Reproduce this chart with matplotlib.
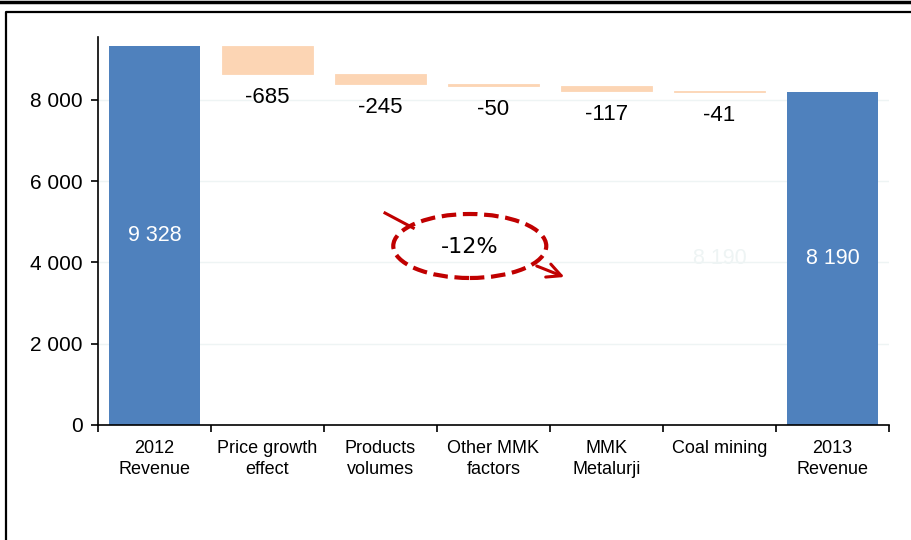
import numpy as np
import matplotlib.pyplot as plt
from matplotlib.patches import Ellipse

plt.rcParams['font.family'] = ['Liberation Sans', 'DejaVu Sans']

categories = ["2012\nRevenue", "Price growth\neffect", "Products\nvolumes",
              "Other MMK\nfactors", "MMK\nMetalurji", "Coal mining", "2013\nRevenue"]
start_value = 9328
changes = [-685, -245, -50, -117, -41]
end_value = 8190
yticks = [0, 2000, 4000, 6000, 8000]
ytick_labels = ["0", "2 000", "4 000", "6 000", "8 000"]
change_pct = "-12%"

blue = "#4f81bd"
peach = "#fcd5b4"
red = "#c00000"

fig = plt.figure(figsize=(9.12, 5.4), dpi=100)
ax = fig.add_axes([98 / 912, 1 - 425 / 540, (889 - 98) / 912, (425 - 37) / 540])

x = np.arange(len(categories))

# totals
ax.bar(x[0], start_value, width=0.8, color=blue, zorder=2)
ax.bar(x[-1], end_value, width=0.8, color=blue, zorder=2)

# floating changes
level = start_value
for i, c in enumerate(changes):
    ax.bar(x[i + 1], -c, bottom=level + c, width=0.8, color=peach,
           edgecolor=peach, linewidth=0.6, zorder=2)
    ax.annotate(f"{c}", (x[i + 1], level + c), xytext=(0, -17),
                textcoords="offset points", ha="center", va="center", fontsize=16)
    level += c

ax.text(x[0], start_value / 2, f"{start_value:,}".replace(",", " "),
        ha="center", va="center", color="white", fontsize=15.5, zorder=3)
ax.text(x[-1], end_value / 2, f"{end_value:,}".replace(",", " "),
        ha="center", va="center", color="white", fontsize=15.5, zorder=3)
# faint ghost label
ax.text(x[-2], end_value / 2, f"{end_value:,}".replace(",", " "),
        ha="center", va="center", color="#eef4f4", fontsize=15.5, zorder=1)

ax.set_xlim(-0.5, len(categories) - 0.5)
ax.set_ylim(0, 9550)

ax.set_yticks(yticks)
ax.set_yticklabels(ytick_labels, fontsize=15)
ax.set_xticks(x)
ax.set_xticklabels(categories, fontsize=13, linespacing=1.25)
ax.set_xticks(np.arange(len(categories) + 1) - 0.5, minor=True)
ax.tick_params(axis="x", which="major", length=0, pad=11)
ax.tick_params(axis="x", which="minor", length=5, width=1.2, direction="out")
ax.tick_params(axis="y", length=5, width=1.2, direction="out", pad=6)

ax.grid(axis="y", color="#eef4f4", linewidth=1, zorder=0)
ax.spines["top"].set_visible(False)
ax.spines["right"].set_visible(False)
ax.spines["left"].set_linewidth(1.2)
ax.spines["bottom"].set_linewidth(1.2)

# -12% callout
ell = Ellipse((2.79, 4406), 1.354, 1575, fill=False, edgecolor=red,
              linewidth=3, linestyle=(0, (3.5, 1.6)), zorder=4)
ax.add_patch(ell)
ax.text(2.79, 4380, change_pct, ha="center", va="center", fontsize=16,
        family="DejaVu Sans", zorder=5)
ax.plot([2.04, 2.29], [5218, 4849], color=red, linewidth=2.2, zorder=4)
ax.annotate("", xy=(3.65, 3618), xytext=(3.36, 3938),
            arrowprops=dict(arrowstyle="->,head_length=1.0,head_width=0.5",
                            color=red, linewidth=2.2), zorder=4)

# frame lines
fig.add_artist(plt.Line2D([0, 1], [1 - 2 / 540, 1 - 2 / 540], color="black",
                          linewidth=2.5, transform=fig.transFigure))
fig.add_artist(plt.Line2D([5.8 / 912, 5.8 / 912, 1], [0, 1 - 11.5 / 540, 1 - 11.5 / 540],
                          color="black", linewidth=1.6, transform=fig.transFigure))

fig.savefig("out.png", dpi=100)
